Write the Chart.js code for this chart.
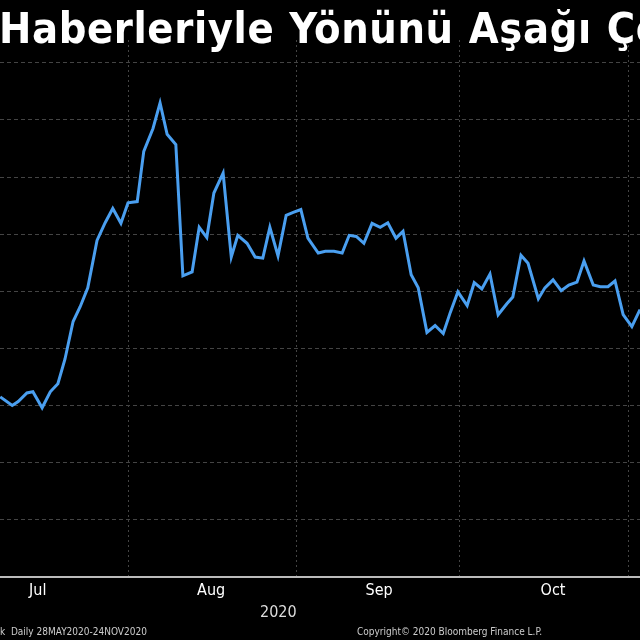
<!DOCTYPE html>
<html><head><meta charset="utf-8">
<script src="https://cdn.jsdelivr.net/npm/chart.js@4"></script>
<style>
html,body{margin:0;padding:0;background:#000;width:640px;height:640px;overflow:hidden;}
#wrap{position:relative;width:640px;height:640px;}
canvas{position:absolute;left:0;top:0;}
.t{position:absolute;color:#fff;white-space:nowrap;}
#title{left:-1px;top:3px;font:bold 43px "DejaVu Sans Condensed","DejaVu Sans",sans-serif;letter-spacing:0.6px;word-spacing:1px;}
#yr{left:260px;top:602px;font:16px "DejaVu Sans Condensed","DejaVu Sans",sans-serif;color:#ddd;}
.f{top:626px;font:10px "DejaVu Sans Condensed","DejaVu Sans",sans-serif;color:#ccc;}
</style></head><body>
<div id="wrap"><canvas id="c" width="640" height="640"></canvas>
<div class="t" id="title">Haberleriyle Yönünü Aşağı Çekti</div>
<div class="t" id="yr">2020</div>
<div class="t f" style="left:0px">k&nbsp; Daily 28MAY2020-24NOV2020</div>
<div class="t f" style="left:357px">Copyright© 2020 Bloomberg Finance L.P.</div>
</div>
<script>
// x: days since 1 Jul 2020 (Jul1=0); y: index level
const days = [7.5,9.7,10.8,12.4,13.5,15.2,16.7,18.1,19.4,20.9,22.2,23.6,25.3,26.8,28.2,29.7,31.0,32.7,33.9,35.6,36.9,38.2,39.8,41.1,42.8,44.1,45.5,46.8,48.5,50.0,51.2,52.9,54.4,55.8,57.1,58.6,60.1,61.4,62.8,64.1,66.0,67.3,68.9,70.4,71.7,73.0,74.4,75.9,77.4,78.8,80.3,81.6,83.1,84.4,86.0,87.5,89.0,90.3,91.7,93.4,94.7,96.1,97.6,99.1,100.7,101.8,103.3,104.6,106.5,107.7,109.2,110.7,112.1,113.6,114.9,116.6,117.9,119.3,120.6,122.1,123.7,125.2];
const values = [3.15,3.00,3.07,3.22,3.24,2.96,3.24,3.38,3.81,4.47,4.73,5.06,5.89,6.20,6.45,6.19,6.55,6.57,7.45,7.85,8.30,7.75,7.57,5.27,5.34,6.12,5.94,6.72,7.07,5.60,5.98,5.84,5.60,5.58,6.12,5.62,6.33,6.38,6.43,5.93,5.67,5.70,5.70,5.67,5.98,5.96,5.84,6.19,6.12,6.20,5.93,6.05,5.29,5.06,4.28,4.40,4.26,4.63,4.99,4.75,5.15,5.04,5.30,4.59,4.78,4.90,5.63,5.49,4.87,5.06,5.20,5.01,5.11,5.16,5.53,5.11,5.08,5.08,5.18,4.59,4.38,4.68];
const monthStarts = [31,62,92,123];
const monthCenters = [14.4,46.3,77.2,109.2];
const monthLabels = ['Jul','Aug','Sep','Oct'];
const yGrid = [1,2,3,4,5,6,7,8,9];

new Chart(document.getElementById('c'),{
  type:'line',
  data:{datasets:[{data:days.map((d,i)=>({x:d,y:values[i]})),borderColor:'#4a9ff0',borderWidth:3,pointRadius:0,tension:0}]},
  options:{
    responsive:false,animation:false,
    layout:{padding:{top:40,bottom:36,left:0,right:0}},
    plugins:{legend:{display:false},tooltip:{enabled:false}},
    scales:{
      x:{type:'linear',min:7.45,max:125.2,
        afterBuildTicks:s=>{s.ticks=monthStarts.map(v=>({value:v,major:true})).concat(monthCenters.map(v=>({value:v})));},
        grid:{color:c=>c.tick&&c.tick.major?'#444':'rgba(0,0,0,0)',lineWidth:1,tickLength:0,drawTicks:false},
        border:{display:true,color:'#bbb',width:2,dash:[2,3]},
        ticks:{autoSkip:false,maxRotation:0,padding:4,color:'#fff',font:{family:'"DejaVu Sans Condensed","DejaVu Sans"',size:16},
          callback:(v)=>{const i=monthCenters.indexOf(v);return i>=0?monthLabels[i]:'';}}
      },
      y:{min:0,max:9.4,display:true,
        afterBuildTicks:s=>{s.ticks=yGrid.map(v=>({value:v}));},
        grid:{color:'#444',drawTicks:false},
        border:{display:false,dash:[4,3]},
        ticks:{display:false}}
    }
  }
});
</script></body></html>
